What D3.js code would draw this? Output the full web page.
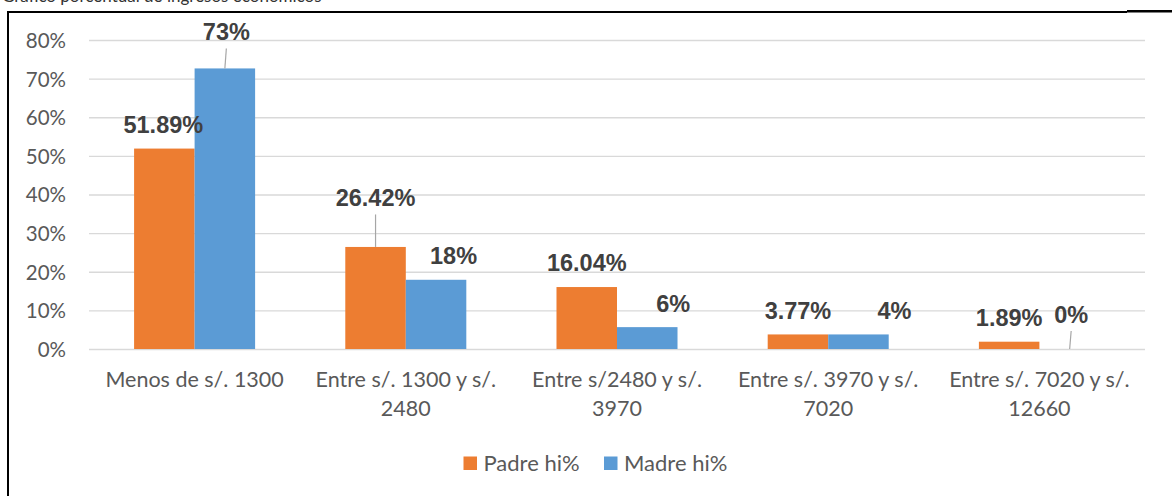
<!DOCTYPE html>
<html>
<head>
<meta charset="utf-8">
<script src="https://cdn.jsdelivr.net/npm/d3@7"></script>
<style>
  html, body { margin: 0; padding: 0; background: #fff; }
  svg { display: block; }
</style>
</head>
<body>
<svg id="chart" width="1172" height="496"></svg>
<script>
// ---- data ----
const categories = [
  "Menos de s/. 1300",
  "Entre s/. 1300 y s/. 2480",
  "Entre s/2480 y s/. 3970",
  "Entre s/. 3970 y s/. 7020",
  "Entre s/. 7020 y s/. 12660"
];
const seriesNames = ["Padre hi%", "Madre hi%"];
const padreValues = [51.89, 26.42, 16.04, 3.77, 1.89];
const madreValues = [72.64, 17.92, 5.66, 3.77, 0];
const padreLabels = ["51.89%", "26.42%", "16.04%", "3.77%", "1.89%"];
const madreLabels = ["73%", "18%", "6%", "4%", "0%"];
const yTicks = [0, 10, 20, 30, 40, 50, 60, 70, 80];
const titleText = "Gráfico porcentual de ingresos económicos";

// ---- label placement (manually dragged in original), offsets from bar top centre ----
const padreLabelOffsets = [[-1, -15.5], [0, -41], [0, -16], [0, -15.5], [0, -15.5]];
const madreLabelOffsets = [[1.5, -28.5], [17.5, -15.5], [26, -15.5], [36, -15.5], [1.5, -26.5]];
const padreLeaders = [false, true, false, false, false];
const madreLeaders = [true, false, false, false, true];

// ---- layout ----
const colors = ["#ED7D31", "#5B9BD5"];
const plot = { left: 89, right: 1145, top: 40, bottom: 349 };
const svg = d3.select("#chart");

// frame
svg.append("line").attr("x1", 8).attr("x2", 8).attr("y1", 11).attr("y2", 496)
  .attr("stroke", "#000").attr("stroke-width", 2);
svg.append("line").attr("x1", 7).attr("x2", 1127).attr("y1", 12).attr("y2", 12)
  .attr("stroke", "#000").attr("stroke-width", 2);
svg.append("line").attr("x1", 1127).attr("x2", 1172).attr("y1", 11.2).attr("y2", 11.2)
  .attr("stroke", "#000").attr("stroke-width", 2.6);

// title, cut off at the very top as in the source image
svg.append("text").attr("x", 2).attr("y", 1.5)
  .attr("font-family", "Lato, sans-serif").attr("font-size", 17)
  .attr("fill", "#333").text(titleText);

const y = d3.scaleLinear().domain([0, 80]).range([plot.bottom, plot.top]);
const x0 = d3.scaleBand().domain(categories).range([plot.left, plot.right])
  .paddingInner(0.427).paddingOuter(0.2135);
const x1 = d3.scaleBand().domain(seriesNames).range([0, x0.bandwidth()]).padding(0);

// gridlines + y labels via axis
const yAxis = d3.axisLeft(y).tickValues(yTicks)
  .tickSize(-(plot.right - plot.left)).tickPadding(23)
  .tickFormat(d => d + "%");
const gy = svg.append("g").attr("transform", `translate(${plot.left},0)`).call(yAxis);
gy.select(".domain").remove();
gy.selectAll(".tick line").attr("stroke", "#D9D9D9").attr("stroke-width", 1.3);
gy.selectAll(".tick text")
  .attr("font-family", "Lato, sans-serif").attr("font-size", 20.5)
  .attr("fill", "#595959").attr("dy", "0.36em");

// bars
const seriesData = [padreValues, madreValues];
const seriesLabels = [padreLabels, madreLabels];
const seriesOffsets = [padreLabelOffsets, madreLabelOffsets];
const seriesLeaders = [padreLeaders, madreLeaders];

seriesNames.forEach((s, si) => {
  const g = svg.append("g");
  g.selectAll("rect").data(seriesData[si]).join("rect")
    .attr("x", (d, i) => x0(categories[i]) + x1(s))
    .attr("width", x1.bandwidth())
    .attr("y", d => y(d))
    .attr("height", d => y(0) - y(d))
    .attr("fill", colors[si]);
});

// data labels + leader lines
seriesNames.forEach((s, si) => {
  const g = svg.append("g");
  seriesData[si].forEach((v, i) => {
    const cx = x0(categories[i]) + x1(s) + x1.bandwidth() / 2;
    const top = y(v);
    const [dx, dy] = seriesOffsets[si][i];
    const lx = cx + dx, ly = top + dy;
    if (seriesLeaders[si][i]) {
      g.append("line")
        .attr("x1", lx).attr("y1", ly + 8.5)
        .attr("x2", cx).attr("y2", top)
        .attr("stroke", "#A6A6A6").attr("stroke-width", 1.2);
    }
    g.append("text").attr("x", lx).attr("y", ly)
      .attr("text-anchor", "middle")
      .attr("font-family", "'Liberation Sans', Arial, sans-serif")
      .attr("font-weight", "bold").attr("font-size", 23.5)
      .attr("fill", "#404040").text(seriesLabels[si][i]);
  });
});

// x-axis category labels (wrapped)
const gx = svg.append("g");
categories.forEach(c => {
  const cx = x0(c) + x0.bandwidth() / 2;
  const t = gx.append("text").attr("x", cx).attr("y", 387)
    .attr("text-anchor", "middle")
    .attr("font-family", "Lato, sans-serif").attr("font-size", 21.5)
    .attr("fill", "#595959");
  const words = c.split(" ");
  let line = [], lineNo = 0;
  let tspan = t.append("tspan").attr("x", cx).attr("y", 387);
  words.forEach(w => {
    line.push(w);
    tspan.text(line.join(" "));
    if (tspan.node().getComputedTextLength() > 205 && line.length > 1) {
      line.pop();
      tspan.text(line.join(" "));
      line = [w];
      lineNo++;
      tspan = t.append("tspan").attr("x", cx).attr("y", 387 + lineNo * 29).text(w);
    }
  });
});

// legend
const legendItems = [
  { name: seriesNames[0], color: colors[0], x: 463.5 },
  { name: seriesNames[1], color: colors[1], x: 604 }
];
const lg = svg.append("g");
legendItems.forEach(it => {
  lg.append("rect").attr("x", it.x).attr("y", 456.5).attr("width", 13.5).attr("height", 13.5)
    .attr("fill", it.color);
  lg.append("text").attr("x", it.x + 20).attr("y", 471)
    .attr("font-family", "Lato, sans-serif").attr("font-size", 22)
    .attr("fill", "#595959").text(it.name);
});
</script>
</body>
</html>
